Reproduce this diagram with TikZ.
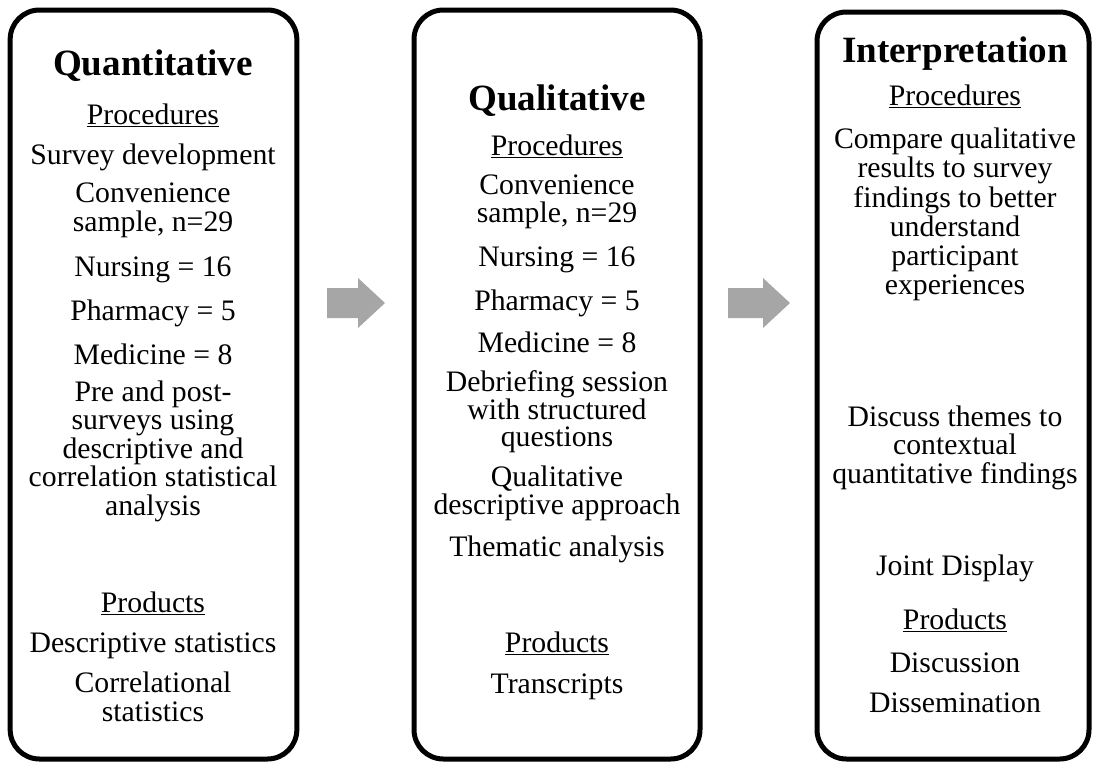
\documentclass[tikz,border=0pt]{standalone}
\usepackage{fontspec}
\setmainfont{Liberation Serif}
\definecolor{arrowgray}{RGB}{166,166,166}
\begin{document}
\begin{tikzpicture}[x=0.75pt,y=-0.75pt,
  panel/.style={draw=black, line width=3.75pt, rounded corners=22pt, inner sep=0pt},
  body/.style={anchor=base, font=\fontsize{22.3}{26}\selectfont, inner sep=0pt},
  ttl/.style={anchor=base, font=\fontsize{27.8}{32}\selectfont\bfseries, inner sep=0pt},
  flow/.style={fill=arrowgray, draw=none}]
\useasboundingbox (0,0) rectangle (1093,765);
% panels
\node[panel, minimum width=215pt, minimum height=561.75pt] (b1) at (153.5,384.5) {};
\node[panel, minimum width=214.5pt, minimum height=561.75pt] (b2) at (557,384.5) {};
\node[panel, minimum width=204pt, minimum height=560.25pt] (b3) at (953,385.5) {};
% arrows
\fill[flow] (327,288) -- (358,288) -- (358,278) -- (385,303) -- (358,328) -- (358,318) -- (327,318) -- cycle;
\fill[flow] (728,288) -- (763,288) -- (763,278) -- (790,303) -- (763,328) -- (763,318) -- (728,318) -- cycle;
% box 1
\node[ttl] (q0) at (153,75) {Quantitative};
\node[body] (q1) at (153,124) {\underline{Procedures}};
\node[body] (q2) at (153,164) {Survey development};
\node[body] (q3) at (153,202) {Convenience};
\node[body] (q4) at (153,231) {sample, n=29};
\node[body] (q5) at (153,276) {Nursing = 16};
\node[body] (q6) at (153,320) {Pharmacy = 5};
\node[body] (q7) at (153,364) {Medicine = 8};
\node[body] (q8) at (153,401) {Pre and post-};
\node[body] (q9) at (153,429) {surveys using};
\node[body] (q10) at (153,458) {descriptive and};
\node[body] (q11) at (153,486) {correlation statistical};
\node[body] (q12) at (153,515) {analysis};
\node[body] (q13) at (153,612) {\underline{Products}};
\node[body] (q14) at (153,652) {Descriptive statistics};
\node[body] (q15) at (153,692) {Correlational};
\node[body] (q16) at (153,721) {statistics};
% box 2
\node[ttl] (l0) at (557,110) {Qualitative};
\node[body] (l1) at (557,155) {\underline{Procedures}};
\node[body] (l2) at (557,194) {Convenience};
\node[body] (l3) at (557,222) {sample, n=29};
\node[body] (l4) at (557,266) {Nursing = 16};
\node[body] (l5) at (557,310) {Pharmacy = 5};
\node[body] (l6) at (557,352) {Medicine = 8};
\node[body] (l7) at (557,391) {Debriefing session};
\node[body] (l8) at (557,419) {with structured};
\node[body] (l9) at (557,446) {questions};
\node[body] (l10) at (557,486) {Qualitative};
\node[body] (l11) at (557,514) {descriptive approach};
\node[body] (l12) at (557,556) {Thematic analysis};
\node[body] (l13) at (557,652) {\underline{Products}};
\node[body] (l14) at (557,693) {Transcripts};
% box 3
\node[ttl] (i0) at (955,62) {Interpretation};
\node[body] (i1) at (955,105) {\underline{Procedures}};
\node[body] (i2) at (955,148) {Compare qualitative};
\node[body] (i3) at (955,177) {results to survey};
\node[body] (i4) at (955,207) {findings to better};
\node[body] (i5) at (955,236) {understand};
\node[body] (i6) at (955,265) {participant};
\node[body] (i7) at (955,294) {experiences};
\node[body] (i8) at (955,426) {Discuss themes to};
\node[body] (i9) at (955,454) {contextual};
\node[body] (i10) at (955,483) {quantitative findings};
\node[body] (i11) at (955,575) {Joint Display};
\node[body] (i12) at (955,629) {\underline{Products}};
\node[body] (i13) at (955,672) {Discussion};
\node[body] (i14) at (955,712) {Dissemination};
\end{tikzpicture}
\end{document}
